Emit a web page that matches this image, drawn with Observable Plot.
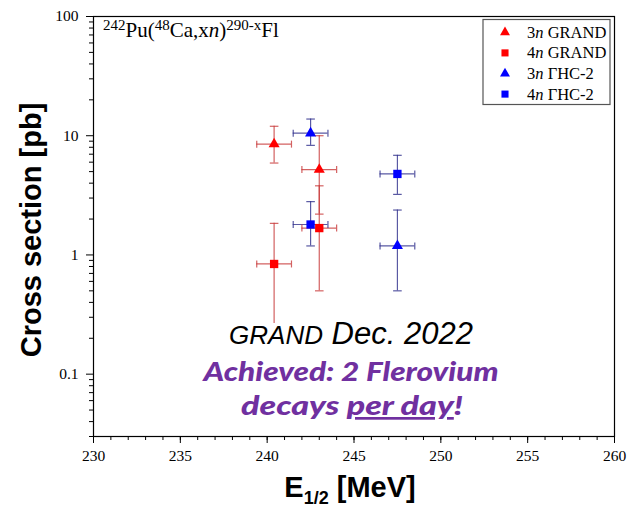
<!DOCTYPE html>
<html><head><meta charset="utf-8">
<script src="https://cdn.jsdelivr.net/npm/d3@7"></script>
<script src="https://cdn.jsdelivr.net/npm/@observablehq/plot@0.6"></script>
<style>
body{margin:0;background:#fff}
#chart{position:relative;width:630px;height:509px}
#chart svg text{font-family:"Liberation Serif","Times New Roman",serif}
</style>
</head><body><div id="chart"></div>
<script>
// ---- data ----
const energy     = [240.4, 243.0, 240.4, 243.0, 242.5, 247.5, 242.5, 247.5];
const energyErr  = [1, 1, 1, 1, 1, 1, 1, 1];
const sigma      = [8.5, 5.2, 0.84, 1.68, 10.5, 1.19, 1.80, 4.78];
const sigmaLow   = [5.9, 2.2, 0.1, 0.50, 8.3, 0.50, 1.19, 3.22];
const sigmaHigh  = [12.0, 10.0, 1.84, 3.8, 13.8, 2.38, 2.8, 6.85];
const channel    = ["3n", "3n", "4n", "4n", "3n", "3n", "4n", "4n"];
const setup      = ["GRAND", "GRAND", "GRAND", "GRAND", "ГНС-2", "ГНС-2", "ГНС-2", "ГНС-2"];
const legendChannels = ["3n", "4n", "3n", "4n"];
const legendSetups   = ["GRAND", "GRAND", "ГНС-2", "ГНС-2"];
const xMajorTicks = [230, 235, 240, 245, 250, 255, 260];
const xMinorTicks = d3.range(230, 261, 1);
const yMajorTicks = [0.1, 1, 10, 100];
const yTickLabels = ["0.1", "1", "10", "100"];
const yMinorTicks = [0.01, 0.1, 1, 10].flatMap(d => [2,3,4,5,6,7,8,9].map(k => +(d * k).toPrecision(3))).filter(v => v >= 0.03 && v <= 100);

const data = energy.map((e, i) => ({e, de: energyErr[i], s: sigma[i], lo: sigmaLow[i], hi: sigmaHigh[i], ch: channel[i], setup: setup[i]}));
const drawOrder = [...data].sort((a, b) => (a.setup === "GRAND") - (b.setup === "GRAND"));
const markColor = s => s === "GRAND" ? "#ff0000" : "#0000ff";
const errColor  = s => s === "GRAND" ? "#c83a3a" : "#30308c";
const hcap = {draw(ctx, size) { const w = Math.sqrt(size / Math.PI); ctx.moveTo(-w, 0); ctx.lineTo(w, 0); }};
const vcap = {draw(ctx, size) { const w = Math.sqrt(size / Math.PI); ctx.moveTo(0, -w); ctx.lineTo(0, w); }};

const serif = "'Liberation Serif', 'Times New Roman', serif";
const sans = "'Liberation Sans', Arial, sans-serif";
const purpleFont = "Lato, 'Open Sans', sans-serif";

const plot = Plot.plot({
  width: 630, height: 509,
  marginLeft: 93, marginRight: 16, marginTop: 16, marginBottom: 73,
  style: {fontSize: "15.5px", color: "#000", background: "#fff"},
  x: {domain: [230, 260]},
  y: {type: "log", domain: [0.03, 100]},
  color: {type: "identity"},
  marks: [
    Plot.axisX({ticks: xMinorTicks, tickSize: 4, tickFormat: () => "", label: null}),
    Plot.axisX({ticks: xMajorTicks, tickSize: 7, tickPadding: 6, label: null, fontSize: 15.5}),
    Plot.axisY({ticks: yMinorTicks, tickSize: 4, tickFormat: () => "", label: null}),
    Plot.axisY({ticks: yMajorTicks, tickSize: 7, tickPadding: 8, label: null, fontSize: 15.5,
                tickFormat: d => yTickLabels[yMajorTicks.indexOf(d)]}),
    Plot.frame({stroke: "#000", strokeWidth: 1.2}),
    // error bars
    Plot.ruleX(drawOrder, {x: "e", y1: "lo", y2: "hi", stroke: d => errColor(d.setup), strokeWidth: 1.2, strokeOpacity: 0.8}),
    Plot.ruleY(drawOrder, {y: "s", x1: d => d.e - d.de, x2: d => d.e + d.de, stroke: d => errColor(d.setup), strokeWidth: 1.2, strokeOpacity: 0.8}),
    Plot.dot(drawOrder, {x: "e", y: "lo", symbol: hcap, r: 4.3, stroke: d => errColor(d.setup), fill: "none", strokeWidth: 1.2, strokeOpacity: 0.8}),
    Plot.dot(drawOrder, {x: "e", y: "hi", symbol: hcap, r: 4.3, stroke: d => errColor(d.setup), fill: "none", strokeWidth: 1.2, strokeOpacity: 0.8}),
    Plot.dot(drawOrder, {x: d => d.e - d.de, y: "s", symbol: vcap, r: 3.5, stroke: d => errColor(d.setup), fill: "none", strokeWidth: 1.2, strokeOpacity: 0.8}),
    Plot.dot(drawOrder, {x: d => d.e + d.de, y: "s", symbol: vcap, r: 3.5, stroke: d => errColor(d.setup), fill: "none", strokeWidth: 1.2, strokeOpacity: 0.8}),
    // markers
    Plot.dot(drawOrder, {filter: d => d.ch === "3n", x: "e", y: "s", symbol: "triangle", r: 4.1, fill: d => markColor(d.setup), stroke: "none"}),
    Plot.dot(drawOrder, {filter: d => d.ch === "4n", x: "e", y: "s", symbol: "square", r: 4.7, fill: d => markColor(d.setup), stroke: "none"})
  ]
});
document.getElementById("chart").appendChild(plot);

const svg = d3.select(plot);

// reaction label
const t = svg.append("text").attr("x", 103).attr("y", 37).attr("text-anchor", "start")
  .attr("font-size", 21).attr("fill", "#000");
t.append("tspan").attr("font-size", 15).attr("dy", -7).text("242");
t.append("tspan").attr("dy", 7).text("Pu(");
t.append("tspan").attr("font-size", 15).attr("dy", -7).text("48");
t.append("tspan").attr("dy", 7).text("Ca,x");
t.append("tspan").attr("font-style", "italic").text("n");
t.append("tspan").text(")");
t.append("tspan").attr("font-size", 15).attr("dy", -7).text("290-x");
t.append("tspan").attr("dy", 7).text("Fl");

// legend
const lg = svg.append("g");
lg.append("rect").attr("x", 483).attr("y", 19.5).attr("width", 127).attr("height", 85)
  .attr("fill", "#fff").attr("stroke", "#555").attr("stroke-width", 1.2);
legendSetups.forEach((s, i) => {
  const y = 32.3 + i * 20.6;
  const sym = legendChannels[i] === "3n" ? d3.symbol(d3.symbolTriangle, Math.PI * 3.7 * 3.7) : d3.symbol(d3.symbolSquare, Math.PI * 4 * 4);
  lg.append("path").attr("d", sym()).attr("transform", `translate(505,${y})`).attr("fill", markColor(s));
  const tx = lg.append("text").attr("x", 527).attr("y", y + 5.5).attr("text-anchor", "start")
    .attr("font-size", 16.5).attr("fill", "#000");
  tx.append("tspan").text(legendChannels[i][0]);
  tx.append("tspan").attr("font-style", "italic").text(legendChannels[i].slice(1));
  tx.append("tspan").text(" " + s);
});

// axis titles (inline style overrides the serif stylesheet rule)
const xt = svg.append("text").attr("x", 350).attr("y", 497).attr("text-anchor", "middle")
  .attr("style", `font-family:${sans}`).attr("font-weight", "bold").attr("font-size", 29).attr("fill", "#000");
xt.append("tspan").text("E");
xt.append("tspan").attr("font-size", 18).attr("dy", 7).text("1/2");
xt.append("tspan").attr("dy", -7).text(" [MeV]");

svg.append("text").attr("transform", "translate(41,230) rotate(-90)").attr("text-anchor", "middle")
  .attr("style", `font-family:${sans}`).attr("font-weight", "bold").attr("font-size", 29).attr("fill", "#000")
  .text("Cross section [pb]");

// annotation box
svg.append("rect").attr("x", 200).attr("y", 323).attr("width", 305).attr("height", 108).attr("fill", "#fff");
const a1 = svg.append("text").attr("x", 351).attr("y", 344).attr("text-anchor", "middle")
  .attr("style", `font-family:${sans}`).attr("font-style", "italic").attr("fill", "#000");
a1.append("tspan").attr("font-size", 26).text("GRAND");
a1.append("tspan").attr("font-size", 31).text(" Dec. 2022");
svg.append("text").attr("x", 351).attr("y", 381).attr("text-anchor", "middle")
  .attr("style", `font-family:${purpleFont}`).attr("font-weight", "900").attr("font-style", "italic")
  .attr("font-size", 26).attr("fill", "#7030A0")
  .attr("textLength", 295).attr("lengthAdjust", "spacingAndGlyphs")
  .text("Achieved: 2 Flerovium");
const a3 = svg.append("text").attr("x", 352).attr("y", 415).attr("text-anchor", "middle")
  .attr("style", `font-family:${purpleFont}`).attr("font-weight", "900").attr("font-style", "italic")
  .attr("font-size", 27).attr("fill", "#7030A0")
  .attr("textLength", 222).attr("lengthAdjust", "spacingAndGlyphs");
a3.append("tspan").text("decays ");
a3.append("tspan").attr("text-decoration", "underline").text("per day");
a3.append("tspan").text("!");
</script>
</body></html>
